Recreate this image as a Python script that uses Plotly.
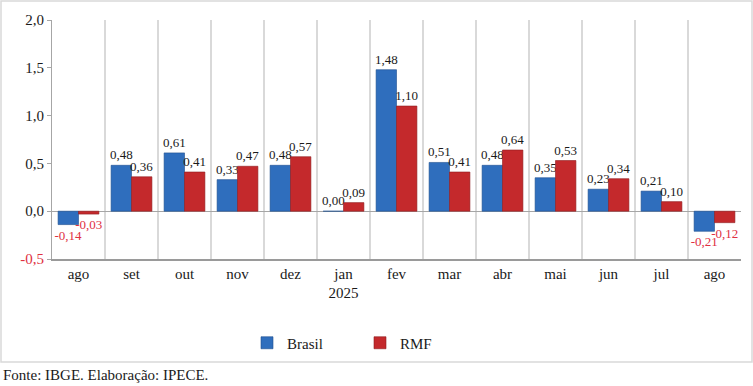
import plotly.graph_objects as go

months = ["ago", "set", "out", "nov", "dez", "jan<br>2025", "fev", "mar", "abr", "mai", "jun", "jul", "ago"]
brasil = [-0.14, 0.48, 0.61, 0.33, 0.48, 0.00, 1.48, 0.51, 0.48, 0.35, 0.23, 0.21, -0.21]
rmf = [-0.03, 0.36, 0.41, 0.47, 0.57, 0.09, 1.10, 0.41, 0.64, 0.53, 0.34, 0.10, -0.12]
ytick_vals = [-0.5, 0.0, 0.5, 1.0, 1.5, 2.0]

RED_TXT = "#E0303F"
FONT = "Liberation Serif"
xpos = list(range(len(months)))


def label_colors(vals):
    return [RED_TXT if v < 0 else "#1a1a1a" for v in vals]


fig = go.Figure()
fig.add_trace(go.Bar(
    x=xpos, y=brasil, name="Brasil",
    marker=dict(color="#2F6EBD", line=dict(color="#1F4F8F", width=0.6)),
    text=[f"{v:.2f}".replace(".", ",") for v in brasil],
    textposition="outside", constraintext="none",
    textfont=dict(family=FONT, size=13, color=label_colors(brasil)),
    cliponaxis=False,
))
fig.add_trace(go.Bar(
    x=xpos, y=rmf, name="RMF",
    marker=dict(color="#C4292C", line=dict(color="#8E1C1E", width=0.6)),
    text=[f"{v:.2f}".replace(".", ",") for v in rmf],
    textposition="outside", constraintext="none",
    textfont=dict(family=FONT, size=13, color=label_colors(rmf)),
    cliponaxis=False,
))

ytick_text = []
for v in ytick_vals:
    s = f"{v:.1f}".replace(".", ",")
    if v < 0:
        s = f"<span style='color:{RED_TXT}'>{s}</span>"
    ytick_text.append(s)

pw = 753 - 52 - 12
ph = 259 - 20

fig.update_layout(
    width=753, height=386,
    margin=dict(l=52, r=12, t=20, b=127),
    paper_bgcolor="white", plot_bgcolor="white",
    barmode="group", bargap=0.23, bargroupgap=0,
    font=dict(family=FONT, size=13, color="#1a1a1a"),
    uniformtext=dict(mode=False),
    showlegend=True,
    legend=dict(orientation="h", x=(247 - 52) / pw, xanchor="left", y=-(343 - 259) / ph, yanchor="middle",
                entrywidth=68, entrywidthmode="pixels", font=dict(family=FONT, size=15, color="#1a1a1a"),
                itemwidth=30),
    xaxis=dict(
        range=[-0.5, len(months) - 0.5], tickvals=xpos, ticktext=months,
        showgrid=False, ticks="", showline=True, linecolor="#9a9a9a", linewidth=1.5,
        tickfont=dict(family=FONT, size=15, color="#1a1a1a"),
        minor=dict(tickvals=[i - 0.5 for i in range(len(months) + 1)], showgrid=True,
                   gridcolor="#d9d9d9", gridwidth=1.5, ticks=""),
        zeroline=False,
    ),
    yaxis=dict(
        range=[-0.5, 2.0], tickvals=ytick_vals, ticktext=ytick_text,
        showgrid=False, zeroline=True, zerolinecolor="#a6a6a6", zerolinewidth=1.2,
        showline=True, linecolor="#a6a6a6", linewidth=1, ticks="outside", ticklen=4, tickcolor="#a6a6a6",
        tickfont=dict(family=FONT, size=15, color="#1a1a1a"),
    ),
    shapes=[dict(type="rect", xref="paper", yref="paper",
                 x0=(1 - 52) / pw, x1=(752 - 52) / pw, y0=(259 - 362) / ph, y1=(259 - 1) / ph,
                 line=dict(color="#d9d9d9", width=1.5), fillcolor="rgba(0,0,0,0)", layer="below")],
    annotations=[dict(text="Fonte: IBGE. Elaboração: IPECE.", xref="paper", yref="paper",
                      x=(1 - 52) / pw, xanchor="left", y=-(375 - 259) / ph, yanchor="middle",
                      showarrow=False, font=dict(family=FONT, size=15, color="#1a1a1a"))],
)

fig.write_html("out.html", config={"displayModeBar": False},
               post_script="document.body.style.margin='0';document.body.style.padding='0';")
